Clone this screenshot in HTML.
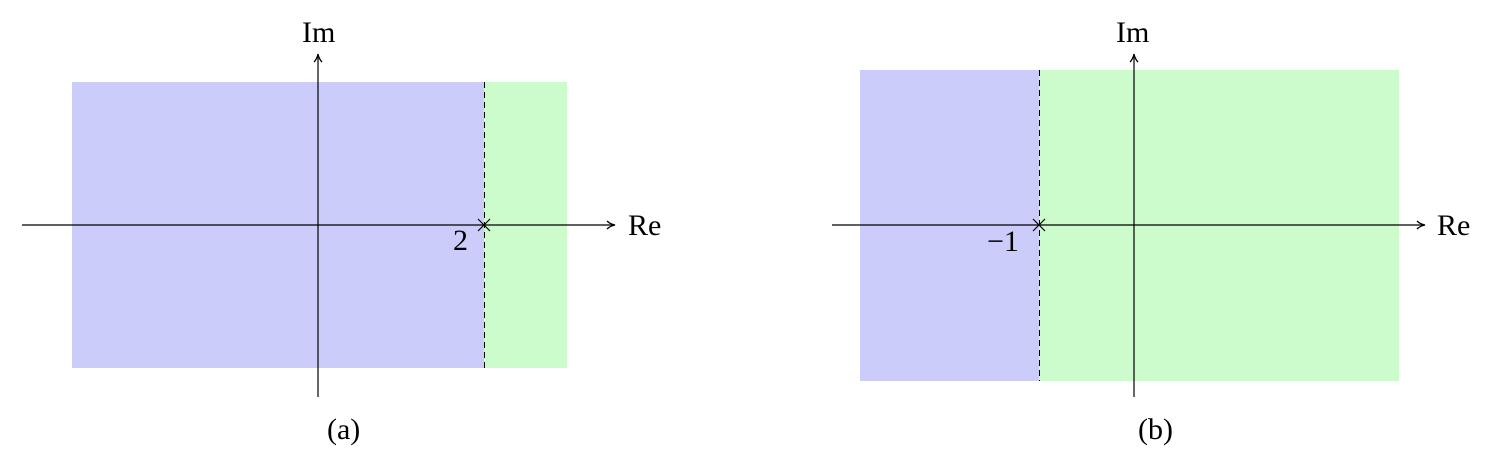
<!DOCTYPE html>
<html><head><meta charset="utf-8"><style>
html,body{margin:0;padding:0;background:#fff;}
svg{display:block;}
text{font-family:"Liberation Serif",serif;font-size:30px;fill:#000;}
</style></head><body>
<svg width="1492" height="461" viewBox="0 0 1492 461" xmlns="http://www.w3.org/2000/svg">
<defs><marker id="ar" markerWidth="10" markerHeight="10" refX="8" refY="5" orient="auto" markerUnits="userSpaceOnUse"><path d="M1,1 Q4,4 9,5 Q4,6 1,9" fill="none" stroke="#000" stroke-width="1.3"/></marker></defs>
<!-- (a) -->
<rect x="72" y="82" width="412" height="286" fill="#ccccfa"/>
<rect x="484" y="82" width="83" height="286" fill="#ccfccc"/>
<line x1="484.5" y1="82" x2="484.5" y2="368" stroke="#000" stroke-width="1" stroke-dasharray="6,4"/>
<line x1="22" y1="225" x2="614" y2="225" stroke="#000" stroke-width="1.2" marker-end="url(#ar)"/>
<line x1="318" y1="397" x2="318" y2="55" stroke="#000" stroke-width="1.2" marker-end="url(#ar)"/>
<path d="M478,219 L490,231 M490,219 L478,231" stroke="#000" stroke-width="1.2"/>
<text x="628" y="235">Re</text>
<text x="302" y="42">Im</text>
<text x="453" y="250">2</text>
<text x="327" y="439">(a)</text>
<!-- (b) -->
<rect x="860" y="70" width="179" height="311" fill="#ccccfa"/>
<rect x="1039" y="70" width="360" height="311" fill="#ccfccc"/>
<line x1="1039.5" y1="70" x2="1039.5" y2="381" stroke="#000" stroke-width="1" stroke-dasharray="6,4"/>
<line x1="832" y1="225" x2="1424" y2="225" stroke="#000" stroke-width="1.2" marker-end="url(#ar)"/>
<line x1="1134" y1="397" x2="1134" y2="55" stroke="#000" stroke-width="1.2" marker-end="url(#ar)"/>
<path d="M1033,219 L1045,231 M1045,219 L1033,231" stroke="#000" stroke-width="1.2"/>
<text x="1437" y="235">Re</text>
<text x="1116" y="42">Im</text>
<text x="987" y="251">−1</text>
<text x="1138" y="439">(b)</text>
</svg>
</body></html>
